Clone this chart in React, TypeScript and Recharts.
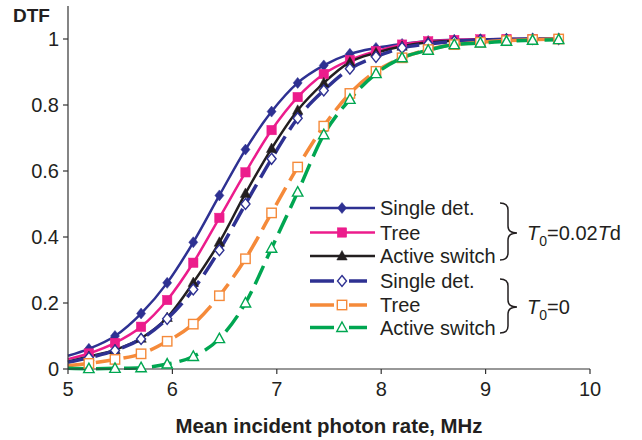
import React from "react";
import { LineChart, Line, XAxis, YAxis } from "recharts";

const photonRate = [5.0, 5.2, 5.45, 5.7, 5.95, 6.2, 6.45, 6.7, 6.95, 7.2, 7.45, 7.7, 7.95, 8.2, 8.45, 8.7, 8.95, 9.2, 9.45, 9.7];

// T0 = 0.02 Td
const singleDetTd = [0.04, 0.061, 0.1, 0.168, 0.261, 0.384, 0.526, 0.665, 0.78, 0.867, 0.92, 0.955, 0.973, 0.985, 0.994, 0.998, 0.999, 1.0, 1.0, 1.0];
const treeTd = [0.03, 0.047, 0.079, 0.128, 0.209, 0.322, 0.458, 0.596, 0.724, 0.824, 0.894, 0.936, 0.963, 0.983, 0.993, 0.997, 0.999, 1.0, 1.0, 1.0];
const activeTd = [0.022, 0.038, 0.058, 0.093, 0.156, 0.262, 0.384, 0.532, 0.668, 0.784, 0.867, 0.93, 0.958, 0.978, 0.99, 0.995, 0.998, 0.999, 1.0, 1.0];

// T0 = 0
const singleDet0 = [0.02, 0.034, 0.056, 0.091, 0.152, 0.241, 0.36, 0.5, 0.637, 0.76, 0.844, 0.91, 0.946, 0.973, 0.985, 0.993, 0.997, 0.999, 1.0, 1.0];
const tree0 = [0.01, 0.017, 0.029, 0.046, 0.084, 0.136, 0.222, 0.334, 0.473, 0.612, 0.736, 0.835, 0.902, 0.943, 0.968, 0.983, 0.99, 0.995, 0.998, 1.0];
const active0 = [0.002, 0.001, 0.002, 0.004, 0.015, 0.038, 0.092, 0.2, 0.366, 0.536, 0.71, 0.817, 0.895, 0.943, 0.966, 0.983, 0.988, 0.993, 0.996, 0.998];

const xTicks = [5, 6, 7, 8, 9, 10];
const yTicks = [0, 0.2, 0.4, 0.6, 0.8, 1];

const data = photonRate.map((x, i) => ({
  x,
  sdTd: singleDetTd[i],
  trTd: treeTd[i],
  asTd: activeTd[i],
  sd0: singleDet0[i],
  tr0: tree0[i],
  as0: active0[i],
}));

const NAVY = "#2E3192";
const PINK = "#EC1C8C";
const BLACK = "#231F20";
const ORANGE = "#F58A3A";
const GREEN = "#00A651";
const FONT = "'Liberation Sans', Arial, sans-serif";

type Kind = "diamond" | "square" | "triangle";

function Marker({ kind, cx, cy, color, filled }: { kind: Kind; cx: number; cy: number; color: string; filled: boolean }) {
  const fill = filled ? color : "#fff";
  const sw = filled ? 0.5 : 1.4;
  if (kind === "diamond") {
    const pts = `${cx},${cy - 5.5} ${cx + 4.5},${cy} ${cx},${cy + 5.5} ${cx - 4.5},${cy}`;
    return <polygon points={pts} fill={fill} stroke={color} strokeWidth={sw} />;
  }
  if (kind === "square") {
    return <rect x={cx - 4.7} y={cy - 4.7} width={9.4} height={9.4} fill={fill} stroke={color} strokeWidth={sw} />;
  }
  const pts = `${cx},${cy - 5.5} ${cx + 5.2},${cy + 4} ${cx - 5.2},${cy + 4}`;
  return <polygon points={pts} fill={fill} stroke={color} strokeWidth={sw} />;
}

const dotFor = (kind: Kind, color: string, filled: boolean) => (props: any) => {
  const { cx, cy, index } = props;
  if (index === 0 || cx == null || cy == null) return <g key={`d-${index}`} />;
  return (
    <g key={`d-${index}`}>
      <Marker kind={kind} cx={cx} cy={cy} color={color} filled={filled} />
    </g>
  );
};

const legendRows = [
  { label: "Single det.", kind: "diamond" as Kind, color: NAVY, filled: true, y: 208 },
  { label: "Tree", kind: "square" as Kind, color: PINK, filled: true, y: 232.5 },
  { label: "Active switch", kind: "triangle" as Kind, color: BLACK, filled: true, y: 256 },
  { label: "Single det.", kind: "diamond" as Kind, color: NAVY, filled: false, y: 281 },
  { label: "Tree", kind: "square" as Kind, color: ORANGE, filled: false, y: 305 },
  { label: "Active switch", kind: "triangle" as Kind, color: GREEN, filled: false, y: 327.5 },
];

function Overlay() {
  return (
    <svg width={642} height={440} style={{ position: "absolute", left: 0, top: 0, pointerEvents: "none" }}>
      <text x={13} y={22} fontFamily={FONT} fontSize={19} fontWeight="bold" fill={BLACK}>DTF</text>
      <text x={329} y={433} textAnchor="middle" fontFamily={FONT} fontSize={20.4} fontWeight="bold" fill={BLACK}>
        Mean incident photon rate, MHz
      </text>
      {legendRows.map((r, i) => (
        <g key={i}>
          {r.filled ? (
            <line x1={310} x2={375} y1={r.y} y2={r.y} stroke={r.color} strokeWidth={2.5} />
          ) : (
            <>
              <line x1={310} x2={334} y1={r.y} y2={r.y} stroke={r.color} strokeWidth={3.5} />
              <line x1={349} x2={367} y1={r.y} y2={r.y} stroke={r.color} strokeWidth={3.5} />
            </>
          )}
          <Marker kind={r.kind} cx={342} cy={r.y} color={r.color} filled={r.filled} />
          <text x={380} y={r.y + 7} fontFamily={FONT} fontSize={20} fill={BLACK}>{r.label}</text>
        </g>
      ))}
      <path d="M500,203 Q508,203 508,210 L508,226 Q508,233 517,233 Q508,233 508,240 L508,253 Q508,260 500,260" fill="none" stroke={BLACK} strokeWidth={1.5} />
      <path d="M500,279 Q508,279 508,286 L508,300 Q508,307 517,307 Q508,307 508,314 L508,326 Q508,333 500,333" fill="none" stroke={BLACK} strokeWidth={1.5} />
      <text x={527} y={240} fontFamily={FONT} fontSize={20} fill={BLACK}>
        <tspan fontStyle="italic">T</tspan>
        <tspan fontSize={14} dy={6}>0</tspan>
        <tspan dy={-6}>=0.02</tspan>
        <tspan fontStyle="italic">T</tspan>
        <tspan>d</tspan>
      </text>
      <text x={527} y={314} fontFamily={FONT} fontSize={20} fill={BLACK}>
        <tspan fontStyle="italic">T</tspan>
        <tspan fontSize={14} dy={6}>0</tspan>
        <tspan dy={-6}>=0</tspan>
      </text>
    </svg>
  );
}

export default function App() {
  const tick = { fontSize: 20, fill: BLACK, fontFamily: FONT };
  const axisLine = { stroke: "#333", strokeWidth: 1.2 };
  return (
    <div style={{ position: "absolute", left: 0, top: 0, width: 642, height: 440, background: "#fff" }}>
      <LineChart width={642} height={440} data={data} margin={{ top: 6, right: 52, bottom: 41, left: 0 }}>
        <XAxis
          type="number"
          dataKey="x"
          domain={[5, 10]}
          ticks={xTicks}
          height={30}
          tickSize={5}
          tickMargin={8}
          tick={tick}
          axisLine={axisLine}
          tickLine={axisLine}
        />
        <YAxis
          type="number"
          domain={[0, 1.1]}
          ticks={yTicks}
          width={68}
          tickSize={5}
          tickMargin={4}
          tick={tick}
          axisLine={axisLine}
          tickLine={axisLine}
          tickFormatter={(v: number) => String(v)}
        />
        <Line type="monotone" dataKey="sdTd" stroke={NAVY} strokeWidth={2.5} dot={dotFor("diamond", NAVY, true)} isAnimationActive={false} />
        <Line type="monotone" dataKey="trTd" stroke={PINK} strokeWidth={2.5} dot={dotFor("square", PINK, true)} isAnimationActive={false} />
        <Line type="monotone" dataKey="asTd" stroke={BLACK} strokeWidth={2.5} dot={dotFor("triangle", BLACK, true)} isAnimationActive={false} />
        <Line type="monotone" dataKey="sd0" stroke={NAVY} strokeWidth={3.5} strokeDasharray="20 8" dot={dotFor("diamond", NAVY, false)} isAnimationActive={false} />
        <Line type="monotone" dataKey="tr0" stroke={ORANGE} strokeWidth={3.5} strokeDasharray="20 8" dot={dotFor("square", ORANGE, false)} isAnimationActive={false} />
        <Line type="monotone" dataKey="as0" stroke={GREEN} strokeWidth={3.5} strokeDasharray="20 8" dot={dotFor("triangle", GREEN, false)} isAnimationActive={false} />
      </LineChart>
      <Overlay />
    </div>
  );
}
